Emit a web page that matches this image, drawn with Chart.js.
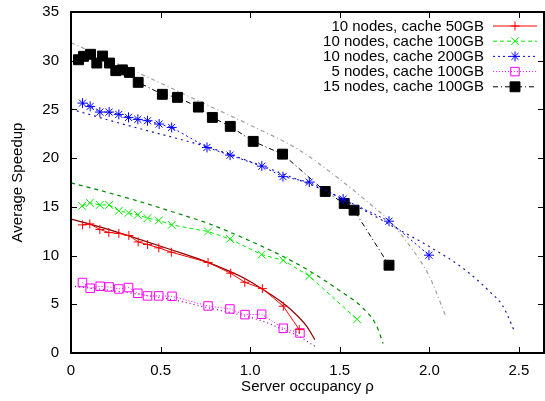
<!DOCTYPE html>
<html>
<head>
<meta charset="utf-8">
<script src="https://cdn.jsdelivr.net/npm/chart.js@4/dist/chart.umd.min.js"></script>
<style>
  html, body { margin: 0; padding: 0; background: #fff; }
  #wrap { width: 545px; height: 401px; }
</style>
</head>
<body>
<div id="wrap"><canvas id="speedup" width="545" height="401"></canvas></div>
<script>
// measured runs: server occupancy (rho) vs. average speedup
const occ10n50 = [0.064, 0.105, 0.161, 0.211, 0.267, 0.323, 0.375, 0.427, 0.49, 0.56, 0.765, 0.891, 0.97, 1.068, 1.185, 1.274]
const speed10n50 = [13.15, 13.25, 12.68, 12.37, 12.27, 12.06, 11.4, 11.14, 10.79, 10.35, 9.29, 8.19, 7.26, 6.61, 4.8, 2.4]

const occ10n100 = [0.062, 0.105, 0.161, 0.213, 0.267, 0.321, 0.373, 0.427, 0.49, 0.562, 0.765, 0.887, 1.064, 1.185, 1.33, 1.597]
const speed10n100 = [15.1, 15.41, 15.2, 15.2, 14.59, 14.38, 14.18, 13.84, 13.6, 13.15, 12.47, 11.71, 10.1, 9.52, 7.9, 3.46]

const occ10n200 = [0.064, 0.107, 0.161, 0.213, 0.267, 0.321, 0.373, 0.427, 0.492, 0.562, 0.759, 0.888, 1.065, 1.183, 1.33, 1.519, 1.775, 1.998]
const speed10n200 = [25.65, 25.31, 24.73, 24.73, 24.49, 24.18, 23.98, 23.84, 23.5, 23.15, 21.1, 20.31, 19.18, 18.1, 17.54, 15.8, 13.53, 10.04]

const occ5n100 = [0.064, 0.107, 0.163, 0.213, 0.267, 0.321, 0.373, 0.427, 0.49, 0.564, 0.765, 0.887, 0.971, 1.064, 1.185, 1.278]
const speed5n100 = [7.23, 6.65, 6.85, 6.78, 6.57, 6.72, 6.13, 5.86, 5.86, 5.82, 4.83, 4.52, 3.94, 3.98, 2.54, 2.06]

const occ15n100 = [0.042, 0.07, 0.109, 0.144, 0.176, 0.215, 0.25, 0.287, 0.326, 0.375, 0.51, 0.594, 0.711, 0.789, 0.889, 1.017, 1.181, 1.419, 1.525, 1.58, 1.775]
const speed15n100 = [30.1, 30.45, 30.66, 29.76, 30.48, 29.76, 28.98, 29.06, 28.8, 27.78, 26.55, 26.24, 25.24, 24.18, 23.26, 21.72, 20.41, 16.58, 15.35, 14.66, 9.01]

// model curves for the same configurations
const modelOcc10n50 = [0, 0.16, 0.319, 0.56, 0.765, 0.975, 1.064, 1.185, 1.259, 1.315, 1.361]
const modelSpeed10n50 = [13.74, 12.95, 12.05, 10.6, 9.3, 7.6, 6.6, 5.1, 3.9, 2.75, 1.37]

const modelOcc10n100 = [0, 0.2, 0.4, 0.6, 0.765, 1.0, 1.185, 1.333, 1.5, 1.63, 1.705, 1.742]
const modelSpeed10n100 = [17.47, 16.5, 15.45, 14.3, 13.3, 11.5, 9.9, 8.4, 6.4, 4.6, 2.8, 0.97]

const modelOcc10n200 = [0, 0.263, 0.542, 0.727, 0.95, 1.166, 1.445, 1.63, 1.817, 2.002, 2.188, 2.337, 2.411, 2.476]
const modelSpeed10n200 = [25.03, 23.63, 22.26, 21.34, 19.97, 18.5, 16.44, 14.7, 12.8, 10.9, 8.7, 6.3, 4.8, 2.2]

const modelOcc5n100 = [0, 0.27, 0.56, 0.765, 0.969, 1.073, 1.185, 1.278, 1.361]
const modelSpeed5n100 = [6.88, 6.3, 5.49, 4.65, 3.8, 3.25, 2.4, 1.65, 0.69]

const modelOcc15n100 = [0, 0.25, 0.5, 0.721, 0.999, 1.277, 1.445, 1.63, 1.779, 1.891, 2.002, 2.091]
const modelSpeed15n100 = [31.85, 29.8, 27.7, 25.79, 23.4, 20.8, 18.6, 15.9, 13.5, 11.0, 7.8, 3.8]

const xTicks = [0, 0.5, 1, 1.5, 2, 2.5]
const seriesLabels = [
  "10 nodes, cache 50GB",
  "10 nodes, cache 100GB",
  "10 nodes, cache 200GB",
  "5 nodes, cache 100GB",
  "15 nodes, cache 100GB",
]

const FONT = "'Liberation Sans', Arial, Helvetica, sans-serif"
const FONT_SIZE = 15

const points = (xs, ys) => xs.map((x, i) => ({ x, y: ys[i] }))

function measured(label, xs, ys, style) {
  return {
    label,
    data: points(xs, ys),
    showLine: true,
    tension: 0,
    borderWidth: 1,
    pointBorderWidth: 1,
    pointHoverRadius: 0,
    ...style,
  }
}

function model(xs, ys, color, dash) {
  return {
    label: "",
    data: points(xs, ys),
    showLine: true,
    borderColor: color,
    borderWidth: 1.2,
    borderDash: dash,
    cubicInterpolationMode: "monotone",
    pointRadius: 0,
    pointHoverRadius: 0,
  }
}

// inner tick marks on all four sides plus the closed frame
const frameTicks = {
  id: "frameTicks",
  afterDatasetsDraw(chart) {
    const { ctx, chartArea: a, scales } = chart
    const len = 6
    ctx.save()
    ctx.strokeStyle = "#000"
    ctx.lineWidth = 1
    ctx.beginPath()
    for (const v of xTicks) {
      const px = Math.round(scales.x.getPixelForValue(v)) + 0.5
      ctx.moveTo(px, a.bottom); ctx.lineTo(px, a.bottom - len)
      ctx.moveTo(px, a.top); ctx.lineTo(px, a.top + len)
    }
    for (const t of scales.y.ticks) {
      const py = Math.round(scales.y.getPixelForValue(t.value)) + 0.5
      ctx.moveTo(a.left, py); ctx.lineTo(a.left + len, py)
      ctx.moveTo(a.right, py); ctx.lineTo(a.right - len, py)
    }
    ctx.stroke()
    ctx.lineWidth = 2
    ctx.strokeRect(a.left, a.top, a.right - a.left, a.bottom - a.top)
    ctx.restore()
  },
}

// gnuplot-style key: right-aligned text, then a line sample with the marker
const keyBox = {
  id: "keyBox",
  afterDraw(chart) {
    const { ctx } = chart
    const textRight = 484
    const lineFrom = 493
    const lineTo = 537
    const rowTop = 25.5
    const rowStep = 15.2
    ctx.save()
    ctx.font = FONT_SIZE + "px " + FONT
    ctx.textAlign = "right"
    ctx.textBaseline = "middle"
    chart.data.datasets.filter((ds) => ds.label).forEach((ds, i) => {
      const y = rowTop + i * rowStep
      ctx.fillStyle = "#000"
      ctx.fillText(ds.label, textRight, y + 1)
      ctx.strokeStyle = ds.borderColor
      ctx.lineWidth = 1
      ctx.setLineDash(ds.borderDash || [])
      ctx.beginPath()
      ctx.moveTo(lineFrom, y + 0.5)
      ctx.lineTo(lineTo, y + 0.5)
      ctx.stroke()
      ctx.setLineDash([])
      ctx.strokeStyle = ds.pointBorderColor || ds.borderColor
      ctx.fillStyle = ds.pointBackgroundColor || "rgba(0,0,0,0)"
      Chart.helpers.drawPoint(ctx, {
        pointStyle: ds.pointStyle,
        radius: ds.pointRadius,
        rotation: 0,
        borderWidth: 1,
      }, (lineFrom + lineTo) / 2, y + 0.5)
    })
    ctx.restore()
  },
}

const datasets = [
  measured(seriesLabels[0], occ10n50, speed10n50, {
    borderColor: "#ff0000", pointStyle: "cross", pointRadius: 4.5,
    pointBorderColor: "#ff0000",
  }),
  measured(seriesLabels[1], occ10n100, speed10n100, {
    borderColor: "#00ee00", borderDash: [4, 3], pointStyle: "crossRot", pointRadius: 5.5,
    pointBorderColor: "#00ee00",
  }),
  measured(seriesLabels[2], occ10n200, speed10n200, {
    borderColor: "#0000ff", borderDash: [2, 3], pointStyle: "star", pointRadius: 5,
    pointBorderColor: "#0000ff",
  }),
  measured(seriesLabels[3], occ5n100, speed5n100, {
    borderColor: "#ff00ff", borderDash: [1, 2], pointStyle: "rect", pointRadius: 6,
    pointBorderColor: "#ff00ff", pointBackgroundColor: "rgba(0,0,0,0)",
  }),
  measured(seriesLabels[4], occ15n100, speed15n100, {
    borderColor: "#000000", borderDash: [5, 3, 1, 3], pointStyle: "rect", pointRadius: 7,
    pointBorderColor: "#000000", pointBackgroundColor: "#000000",
  }),
  model(modelOcc10n50, modelSpeed10n50, "#8b0000", []),
  model(modelOcc10n100, modelSpeed10n100, "#008800", [4, 4]),
  model(modelOcc10n200, modelSpeed10n200, "#1a1a9a", [2, 4]),
  model(modelOcc5n100, modelSpeed5n100, "#8b008b", [1, 3]),
  model(modelOcc15n100, modelSpeed15n100, "#a0a0a0", [4, 3, 1, 3]),
]

new Chart(document.getElementById("speedup"), {
  type: "scatter",
  data: { datasets },
  options: {
    responsive: false,
    devicePixelRatio: 1,
    animation: false,
    events: [],
    layout: { autoPadding: false, padding: { top: 12, right: 1, left: 0, bottom: 0 } },
    plugins: { legend: { display: false }, tooltip: { enabled: false } },
    scales: {
      x: {
        type: "linear",
        min: 0,
        max: 2.64,
        afterFit: (scale) => {
          scale.height = 48
          scale.paddingLeft = 0
          scale.paddingRight = 0
        },
        afterBuildTicks: (scale) => { scale.ticks = xTicks.map((value) => ({ value })) },
        grid: { display: false, drawTicks: false },
        border: { display: false },
        ticks: { color: "#000", font: { family: FONT, size: FONT_SIZE }, padding: 9, maxRotation: 0 },
        title: {
          display: true,
          text: "Server occupancy ρ",
          color: "#000",
          font: { family: FONT, size: FONT_SIZE },
          padding: { top: 0, bottom: 5 },
        },
      },
      y: {
        type: "linear",
        min: 0,
        max: 35,
        afterFit: (scale) => {
          scale.width = 71
          scale.paddingTop = 0
          scale.paddingBottom = 0
        },
        grid: { display: false, drawTicks: false },
        border: { display: false },
        ticks: { stepSize: 5, color: "#000", font: { family: FONT, size: FONT_SIZE }, padding: 12 },
        title: {
          display: true,
          text: "Average Speedup",
          color: "#000",
          font: { family: FONT, size: FONT_SIZE },
          padding: { top: 9, bottom: 0 },
        },
      },
    },
  },
  plugins: [frameTicks, keyBox],
})
</script>
</body>
</html>
